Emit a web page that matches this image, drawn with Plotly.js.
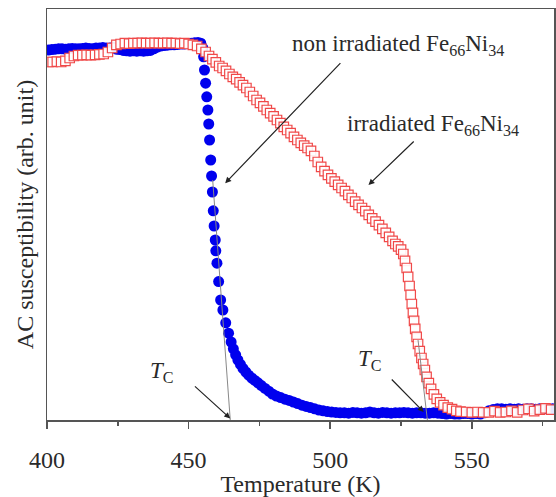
<!DOCTYPE html>
<html>
<head>
<meta charset="utf-8">
<script src="https://cdn.plot.ly/plotly-3.0.1.min.js"></script>
<style>html,body{margin:0;padding:0;background:#fff;}#chart{width:556px;height:497px;}</style>
</head>
<body>
<div id="chart"></div>
<script>
// non irradiated Fe66Ni34 (blue filled circles)
const blueT = [400.5,401.7,402.9,404.1,405.3,406.5,407.7,408.9,410.1,411.3,412.5,413.7,414.9,416.1,417.3,418.5,419.7,420.9,422.1,423.3,424.5,425.7,426.9,428.1,429.3,430.5,431.7,432.9,434.1,435.3,436.5,437.7,438.9,440.1,441.3,442.5,443.7,444.9,446.1,447.3,448.5,449.7,450.9,452.1,453.3,454.3,455,455.3,455.6,456,456.4,456.8,457.1,457.4,457.8,458.1,458.4,458.7,459,459.4,459.6,460,460.6,461.3,462.1,463.1,464.1,465,465.8,466.6,467.4,468.3,469.2,470.2,471.2,472.3,473.4,474.5,475.7,477,478.3,479.6,481,482.5,484,485.5,487,488.5,490,491.5,493,494.5,496,497.5,499,500.5,502,503.5,505,506.5,508,509.5,511,512.5,514,515.5,517,518.5,520,521.5,523,524.5,526,527.5,529,530.5,532,533.5,535,536.5,538,539.5,541,542.5,544,545.5,547,548.5,550,551.5,553,554.5,556,557.5,559,560.5,562,563.5,565,566.5,568,569.5,571,572.5,574,575.5,577,578.5];
const blueV = [92.5,92.6,92.7,92.8,92.8,92.7,92.8,92.9,92.8,92.8,92.9,93,92.9,92.8,93,93,93.1,93,93,93.1,92.7,92.6,92.4,92.3,92.2,92.3,92.2,92.3,92.2,92.3,92.4,92.8,93.2,93.5,93.6,93.7,93.8,93.8,93.9,94,94,94.1,94.2,94.3,94.4,94.2,93,90.8,87.5,84.2,80.8,77.5,74,70,65,61,57,52.3,48.5,45,42.3,39.2,34.6,30,27.5,24.3,21.7,19.5,17.8,16.3,15,13.9,12.9,12,11.2,10.5,9.9,9.3,8.6,7.9,7.2,6.5,6,5.6,5.2,4.9,4.5,4.1,3.7,3.4,3.1,2.8,2.5,2.3,2.1,2,1.9,1.8,1.8,1.7,1.9,1.8,1.7,1.8,2,1.8,1.7,1.9,1.8,1.7,1.8,1.8,1.9,1.8,1.7,1.8,1.8,1.7,1.7,1.8,1.7,1.6,1.5,1.6,1.5,1.5,1.6,1.6,1.5,1.6,1.5,1.8,2.3,2.6,2.8,2.8,2.7,2.8,2.7,2.8,2.7,2.8,2.8,2.7,2.8,2.8,2.7,2.8];

// irradiated Fe66Ni34 (red open squares)
const redT = [400.5,402,403.5,405,406.5,408,409.5,411,412.5,414,415.5,417,418.5,420,421.5,423,424.5,426,427.5,429,430.5,432,433.5,435,436.5,438,439.5,441,442.5,444,445.5,447,448.5,450,451.5,453,454.5,456,457.2,458.4,459.6,460.8,462,463.2,464.4,465.6,466.8,468,469.2,470.4,471.6,472.8,474,475.2,476.4,477.6,478.8,480,481.2,482.4,483.6,484.8,486,487.2,488.4,489.6,490.8,492,493.2,494.4,495.6,496.8,498,499.2,500.4,501.6,502.8,504,505.2,506.4,507.6,508.8,510,511.2,512.4,513.6,514.8,516,517.2,518.4,519.6,520.8,522,523,524,525,525.8,526.4,527,527.5,528,528.4,528.8,529.2,529.6,530,530.5,531,531.6,532.2,532.8,533.4,534,534.8,535.6,536.6,537.6,538.8,540,541.5,543,544.5,546,548,550,552,554,556,558,560,562,564,566,568,570,572,574,576,578];
const redV = [89.5,89.5,89.6,89.5,89.8,90.5,91,91.2,91.2,91.3,91.2,91.3,91.4,91.5,92,93,93.8,94,94.2,94.1,94.2,94.2,94.3,94.2,94.2,94.3,94.2,94.2,94.3,94.2,94.2,94.1,94.2,94,93.8,93.5,92.8,92,91,90.2,89.4,88.5,88,87.3,86.5,85.8,85.2,84.4,83.7,83,82,81,80,79.3,78.4,77.5,76.7,75.9,75,74.2,73.3,72.5,71.7,70.8,70,69.3,68.6,68,67.3,66,64.5,63.3,62.2,61.3,60.4,59.6,58.8,58,57.2,56.3,55.5,54.6,53.8,53,52.2,51.3,50.4,49.6,48.7,47.8,46.8,45.8,44.8,44,43.4,42.6,41.5,39.8,38,35.8,33.5,31.3,29,26.8,24.8,22.8,20.8,19,17.2,15.5,14,12.5,10.8,9.2,7.8,6.4,5.3,4.4,3.7,3.1,2.7,2.3,2.1,2,1.9,2,1.9,1.9,2.2,1.9,2,2.3,1.9,2.5,2.8,2.2,2.6,2.9,2.6];

const xTickVals = [400,450,500,550];
const xTickText = ['400','450','500','550'];

const serif = 'Liberation Serif, Times New Roman, serif';

const traces = [
  {x: blueT, y: blueV, type: 'scatter', mode: 'markers', name: 'non irradiated',
   marker: {symbol: 'circle', size: 11, color: '#0000ee', line: {width: 0}}},
  {x: redT, y: redV, type: 'scatter', mode: 'markers', name: 'irradiated',
   marker: {symbol: 'square', size: 9.5, color: 'rgba(255,255,255,0.9)', line: {width: 1.2, color: '#f04848'}}}
];

const arrowStyle = {showarrow: true, arrowhead: 2, arrowsize: 1, arrowwidth: 1.2, arrowcolor: '#222', axref: 'x', ayref: 'y', text: ''};

const layout = {
  width: 556, height: 497,
  margin: {l: 47, r: 2, t: 9, b: 77},
  paper_bgcolor: '#fff', plot_bgcolor: '#fff',
  showlegend: false,
  font: {family: serif, color: '#2a2a2a', size: 22},
  xaxis: {
    range: [400, 579], tickvals: xTickVals, ticktext: xTickText,
    showline: true, mirror: true, linecolor: '#555', linewidth: 1.5,
    ticks: 'outside', ticklen: 7, tickwidth: 1.5, tickcolor: '#555',
    minor: {tickvals: [425,475,525,575], ticks: 'outside', ticklen: 4, tickwidth: 1.5, tickcolor: '#555'},
    showgrid: false, zeroline: false,
    ticklabelstandoff: 11,
    tickfont: {family: serif, size: 24, color: '#2a2a2a'},
    title: {text: 'Temperature (K)', font: {family: serif, size: 24, color: '#2a2a2a'}, standoff: 24}
  },
  yaxis: {
    range: [0, 102.75], showticklabels: false, ticks: '',
    showline: true, mirror: true, linecolor: '#555', linewidth: 1.5,
    showgrid: false, zeroline: false,
    title: {text: 'AC susceptibility (arb. unit)', font: {family: serif, size: 24, color: '#2a2a2a'}, standoff: 5}
  },
  shapes: [
    {type: 'line', xref: 'x', yref: 'y', x0: 458.5, y0: 60, x1: 464.7, y1: 0, line: {color: '#888', width: 1}},
    {type: 'line', xref: 'x', yref: 'y', x0: 531, y0: 20, x1: 534.3, y1: 0, line: {color: '#888', width: 1}}
  ],
  annotations: [
    Object.assign({}, arrowStyle, {x: 462.9, y: 59.2, ax: 504.1, ay: 89.6}),
    Object.assign({}, arrowStyle, {x: 513.5, y: 58.75, ax: 530, ay: 70}),
    Object.assign({}, arrowStyle, {x: 464.7, y: 0.4, ax: 451.7, ay: 8.75}),
    Object.assign({}, arrowStyle, {x: 533, y: 2, ax: 521.2, ay: 10.5}),
    {x: 524, y: 93.75, xref: 'x', yref: 'y', showarrow: false, text: 'non irradiated Fe<sub>66</sub>Ni<sub>34</sub>', font: {family: serif, size: 23, color: '#2a2a2a'}},
    {x: 536.4, y: 73.75, xref: 'x', yref: 'y', showarrow: false, text: 'irradiated Fe<sub>66</sub>Ni<sub>34</sub>', font: {family: serif, size: 23, color: '#2a2a2a'}},
    {x: 440.6, y: 12, xref: 'x', yref: 'y', showarrow: false, text: '<i>T</i><sub>C</sub>', font: {family: serif, size: 23, color: '#2a2a2a'}},
    {x: 514.1, y: 15, xref: 'x', yref: 'y', showarrow: false, text: '<i>T</i><sub>C</sub>', font: {family: serif, size: 23, color: '#2a2a2a'}}
  ]
};

Plotly.newPlot('chart', traces, layout, {displayModeBar: false, staticPlot: true});
</script>
</body>
</html>
